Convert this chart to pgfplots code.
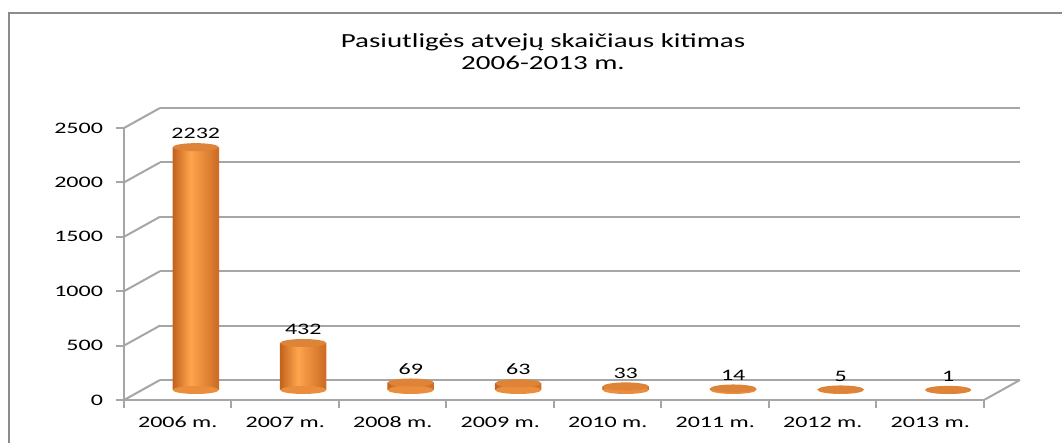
\documentclass[border=0pt]{standalone}
\usepackage{fontspec}
\setmainfont{Carlito}[FakeStretch=1.5]
\usepackage{pgfplots}
\usepackage{pgfplotstable}
\pgfplotsset{compat=1.18}

\definecolor{gridgray}{HTML}{A6A6A6}
\definecolor{framegray}{HTML}{8C8C8C}
\definecolor{cylL}{HTML}{C0601C}
\definecolor{cylM}{HTML}{FFA54E}
\definecolor{cylR}{HTML}{CD6C24}
\definecolor{cylTop}{HTML}{DE8438}
\definecolor{cylBot}{HTML}{EA8E3E}
% 23 vertical stripes that shade each cylinder from left to right
\colorlet{cyl0}{cylM!5!cylL}
\colorlet{cyl1}{cylM!16!cylL}
\colorlet{cyl2}{cylM!27!cylL}
\colorlet{cyl3}{cylM!38!cylL}
\colorlet{cyl4}{cylM!49!cylL}
\colorlet{cyl5}{cylM!60!cylL}
\colorlet{cyl6}{cylM!71!cylL}
\colorlet{cyl7}{cylM!82!cylL}
\colorlet{cyl8}{cylM!92!cylL}
\colorlet{cyl9}{cylR!2!cylM}
\colorlet{cyl10}{cylR!9!cylM}
\colorlet{cyl11}{cylR!17!cylM}
\colorlet{cyl12}{cylR!24!cylM}
\colorlet{cyl13}{cylR!31!cylM}
\colorlet{cyl14}{cylR!38!cylM}
\colorlet{cyl15}{cylR!46!cylM}
\colorlet{cyl16}{cylR!53!cylM}
\colorlet{cyl17}{cylR!60!cylM}
\colorlet{cyl18}{cylR!67!cylM}
\colorlet{cyl19}{cylR!75!cylM}
\colorlet{cyl20}{cylR!82!cylM}
\colorlet{cyl21}{cylR!89!cylM}
\colorlet{cyl22}{cylR!96!cylM}

\pgfdeclareplotmark{cylell}{%
  \pgfpathellipse{\pgfpointorigin}{\pgfqpoint{11.5pt}{0pt}}{\pgfqpoint{0pt}{2pt}}%
  \pgfusepathqfill}

\pgfplotstableread{
x y
0.5 2232
1.5 432
2.5 69
3.5 63
4.5 33
5.5 14
6.5 5
7.5 1
}\data

\begin{document}
\begin{tikzpicture}
\useasboundingbox (0pt,0pt) rectangle (531pt,-221.5pt);
\draw[framegray, line width=1pt] (4.5pt,-221.5pt) -- (4.5pt,-6.5pt) -- (531pt,-6.5pt);
\node[anchor=base, inner sep=0pt, font=\fontsize{10}{11}\selectfont] at (271.5pt,-24pt) {\addfontfeature{FakeStretch=1.45}Pasiutligės atvejų skaičiaus kitimas};
\node[anchor=base, inner sep=0pt, font=\fontsize{10}{11}\selectfont] at (271.5pt,-35pt) {\addfontfeature{FakeStretch=1.45}2006-2013 m.};

\begin{axis}[
  at={(62pt,-200pt)}, anchor=south west,
  width=430pt, height=136pt, scale only axis,
  xmin=0, xmax=8, ymin=0, ymax=2500,
  axis x line*=bottom, axis y line*=left,
  axis line style={gridgray, line width=1pt, -},
  ytick={0,500,...,2500},
  xtick={0.5,1.5,...,7.5},
  xticklabels={2006 m.,2007 m.,2008 m.,2009 m.,2010 m.,2011 m.,2012 m.,2013 m.},
  minor xtick={0,1,...,8},
  tick align=outside,
  major tick length=4pt, minor tick length=4pt,
  tick style={gridgray, line width=1pt},
  major x tick style={draw=none},
  scaled y ticks=false,
  /pgf/number format/assume math mode=true,
  /pgf/number format/1000 sep={},
  ticklabel style={font=\fontsize{8}{9}\selectfont, text=black},
  yticklabel style={xshift=-3pt},
  xticklabel style={yshift=-1pt},
  clip=false,
]
\addplot[draw=none] coordinates {(0,0) (8,2500)};
\pgfplotsinvokeforeach{0,500,1000,1500,2000,2500}{
  \draw[gridgray, line width=1pt] (axis cs:0,#1) -- ++(18pt,10pt);
  \draw[gridgray, line width=1pt, shift={(18pt,10pt)}] (axis cs:0,#1) -- (axis cs:8,#1);
}
\draw[gridgray, line width=1pt] (axis cs:8,0) -- ++(18pt,10pt);
\end{axis}

\begin{axis}[
  at={(71pt,-195pt)}, anchor=south west,
  width=430pt, height=136pt, scale only axis,
  xmin=0, xmax=8, ymin=0, ymax=2500,
  hide axis, clip=false,
  /pgf/number format/assume math mode=true,
  /pgf/number format/1000 sep={},
]
% bottom rims of the cylinders
\addplot[only marks, mark=cylell, mark options={fill=cylBot, draw=none}]
  coordinates {(0.5,0) (1.5,0) (2.5,0) (3.5,0) (4.5,0) (5.5,0) (6.5,0) (7.5,0)};
% cylinder bodies: each bar drawn as 23 thin vertical stripes
\pgfplotsinvokeforeach{0,...,22}{
  \addplot[ybar, bar width=1.25pt, bar shift={(#1-11)*1pt}, fill=cyl#1, draw=none]
    table[x=x, y=y] {\data};
}
% top ellipses and value labels
\addplot[only marks, mark=cylell, mark options={fill=cylTop, draw=none},
  nodes near coords,
  nodes near coords style={font=\fontsize{8}{9}\selectfont, text=black, anchor=south, yshift=0.5pt}]
  table[x=x, y=y] {\data};
\end{axis}
\end{tikzpicture}
\end{document}
